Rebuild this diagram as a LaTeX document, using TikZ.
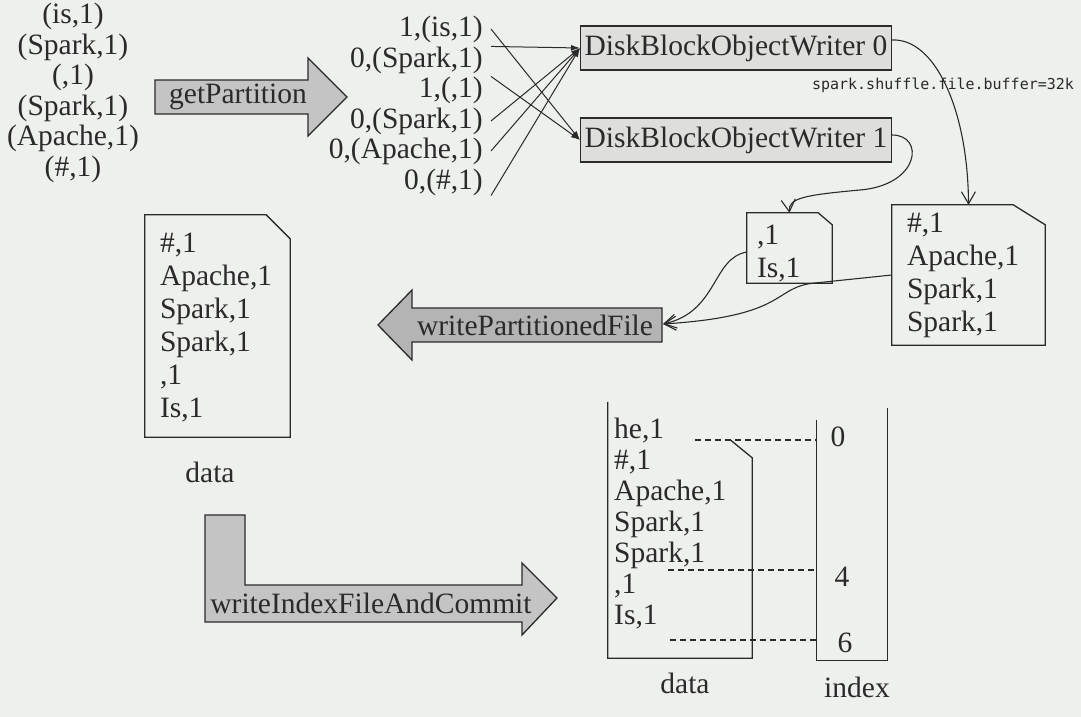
\documentclass[tikz,border=0pt]{standalone}
\usepackage{fontspec}
\setmainfont{Liberation Serif}
\newfontfamily\handfont{DejaVu Sans Mono}
\usetikzlibrary{arrows.meta}
\definecolor{paper}{HTML}{EEF0ED}
\definecolor{arrowgray}{HTML}{C4C4C4}
\definecolor{arrowdark}{HTML}{B4B4B4}
\definecolor{boxgray}{HTML}{DEDEDC}
\definecolor{ink}{HTML}{2A2A2A}
\tikzset{
  txt/.style={inner sep=0pt, text=ink, font=\fontsize{29.5}{31}\selectfont},
  filetxt/.style={inner sep=0pt, text=ink, align=left, anchor=north west, font=\fontsize{29.5}{33}\selectfont},
  writer/.style={draw=ink, line width=1.3pt, fill=boxgray, text=ink, inner xsep=4pt, minimum height=44pt, anchor=west, font=\fontsize{29.5}{31}\selectfont},
  fat/.style={draw=ink, line width=1.3pt, fill=arrowgray},
  file/.style={draw=ink, line width=1.3pt},
  part/.style={draw=ink, -{Latex[length=9pt,width=6pt]}, line width=1pt},
  flow/.style={draw=ink, -{Straight Barb[length=12pt,width=14pt]}, line width=1.1pt},
  link/.style={draw=ink, dash pattern=on 6pt off 4pt, line width=1.1pt},
}
\begin{document}
\begin{tikzpicture}[x=1pt,y=-1pt]
        \fill[paper] (0,0) rectangle (1081,717);
        \useasboundingbox (0,0) rectangle (1081,717);
        % input records
        \node[txt, align=center, font=\fontsize{29.5}{30.6}\selectfont] (rec) at (73,93) {(is,1)\\(Spark,1)\\(,1)\\(Spark,1)\\(Apache,1)\\(\#,1)};
        \draw[fat] (155,80) -- (308,80) -- (308,58) -- (347,97) -- (308,136) -- (308,114) -- (155,114) -- cycle;
        \node[txt] (getp) at (238,97) {getPartition};
        % partition ids
        \node[txt, anchor=east, inner xsep=8pt] (m1) at (491,29)  {1,(is,1)};
        \node[txt, anchor=east, inner xsep=8pt] (m2) at (491,60)  {0,(Spark,1)};
        \node[txt, anchor=east, inner xsep=8pt] (m3) at (491,90)  {1,(,1)};
        \node[txt, anchor=east, inner xsep=8pt] (m4) at (491,121) {0,(Spark,1)};
        \node[txt, anchor=east, inner xsep=8pt] (m5) at (491,151) {0,(Apache,1)};
        \node[txt, anchor=east, inner xsep=8pt] (m6) at (491,182) {0,(\#,1)};
        \node[writer] (W0) at (580,48)  {DiskBlockObjectWriter 0};
        \node[writer, minimum width=300pt] (W1) at (580,140) {DiskBlockObjectWriter 1};
        \path
            (m1.east) edge [part] (W1.west)
            (m2.north east) edge [part] (W0.west)
            (m3.north east) edge [part] (W1.west)
            (m4.east) edge [part] (W0.west)
            (m5.east) edge [part] (W0.west)
            (m6.south east) edge [part] (W0.west)
            ;
        \node[inner sep=0pt, text=ink, font=\handfont\fontsize{15}{15}\selectfont] (bufsize) at (943,85) {spark.shuffle.file.buffer=32k};
        % buffered files
        \node[minimum width=85pt, minimum height=70pt, inner sep=0pt] (bufA) at (789.5,248) {};
        \draw[file] (bufA.north west) -- ([xshift=-14pt]bufA.north east) -- ([yshift=-12pt]bufA.north east) -- (bufA.south east) -- (bufA.south west) -- cycle;
        \node[filetxt] (bufAtxt) at ([shift={(10pt,-12pt)}]bufA.north west) {,1\\Is,1};
        \node[minimum width=153pt, minimum height=140pt, inner sep=0pt] (bufB) at (968.5,275) {};
        \draw[file] (bufB.north west) -- ([xshift=-32pt]bufB.north east) -- ([yshift=-20pt]bufB.north east) -- (bufB.south east) -- (bufB.south west) -- cycle;
        \node[filetxt] (bufBtxt) at ([shift={(15pt,-8pt)}]bufB.north west) {\#,1\\Apache,1\\Spark,1\\Spark,1};
        \draw[flow] ([yshift=8pt]W0.east) .. controls (935,38) and (968,110) .. (bufB.north);
        \draw[flow] ([yshift=5pt]W1.east) .. controls (925,135) and (920,185) .. (860,190) .. controls (805,195) and (788,198) .. (bufA.north);
        % merged data file
        \draw[fat, fill=arrowdark] (378,325) -- (412,290) -- (412,308) -- (662,308) -- (662,342) -- (412,342) -- (412,360) -- cycle;
        \node[txt] (wpf) at (535,325) {writePartitionedFile};
        \coordinate (wpfEnd) at (663,324);
        \draw[flow] ([yshift=-4pt]bufA.west) .. controls (712,258) and (718,312) .. (wpfEnd);
        \draw[flow] (bufB.west) -- (815,283) .. controls (772,287) and (790,316) .. (wpfEnd);
        \node[minimum width=145pt, minimum height=222pt, inner sep=0pt] (dataL) at (217.5,326) {};
        \draw[file] (dataL.north west) -- ([xshift=-24pt]dataL.north east) -- ([yshift=-24pt]dataL.north east) -- (dataL.south east) -- (dataL.south west) -- cycle;
        \node[filetxt] (dataLtxt) at ([shift={(15pt,-18pt)}]dataL.north west) {\#,1\\Apache,1\\Spark,1\\Spark,1\\,1\\Is,1};
        \node[txt] (dataLlab) at (210,472) {data};
        % index file
        \draw[fat] (205,515) -- (245,515) -- (245,585) -- (522,585) -- (522,563) -- (557,598) -- (522,635) -- (522,622) -- (205,622) -- cycle;
        \node[txt] (wifc) at (371,603) {writeIndexFileAndCommit};
        \node[minimum width=144pt, minimum height=256pt, inner sep=0pt] (dataR) at (680,530) {};
        \draw[file] (dataR.north west) -- (dataR.south west) -- (dataR.south east) -- ([yshift=-56pt]dataR.north east) -- ([shift={(-22pt,-38pt)}]dataR.north east);
        \node[filetxt, font=\fontsize{29.5}{31}\selectfont] (dataRtxt) at (614,418) {he,1\\\#,1\\Apache,1\\Spark,1\\Spark,1\\,1\\Is,1};
        \node[minimum width=70pt, minimum height=252pt, inner sep=0pt] (idx) at (852,534) {};
        \draw[file] ([yshift=-12pt]idx.north west) -- (idx.south west) -- (idx.south east) -- (idx.north east);
        \node[txt] (i0) at (838,437) {0};
        \node[txt] (i4) at (842,577) {4};
        \node[txt] (i6) at (845,643) {6};
        \coordinate (d0) at (695,440);
        \coordinate (d4) at (668,570);
        \coordinate (d6) at (670,640);
        \draw[link] (d0) -- (d0 -| idx.west);
        \draw[link] (d4) -- (d4 -| idx.west);
        \draw[link] (d6) -- (d6 -| idx.west);
        \node[txt] (dataRlab) at (685,683) {data};
        \node[txt] (idxlab) at (857,687) {index};
\end{tikzpicture}
\end{document}
